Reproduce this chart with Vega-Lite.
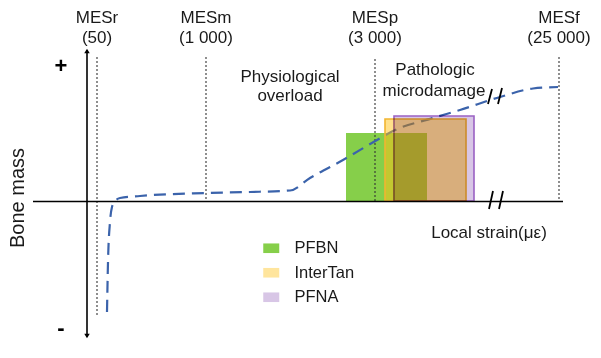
{
  "$schema": "https://vega.github.io/schema/vega-lite/v6.json",
  "width": 601,
  "height": 358,
  "autosize": {"type": "fit", "contains": "padding"},
  "padding": 0,
  "background": "white",
  "config": {"view": {"stroke": null}, "font": "Liberation Sans"},
  "datasets": {
    "implants": [
      {"implant": "PFBN", "x": 346, "x2": 427, "y": 133, "y2": 201},
      {"implant": "InterTan", "x": 385, "x2": 466, "y": 119, "y2": 201},
      {"implant": "PFNA", "x": 394, "x2": 474, "y": 116, "y2": 201}
    ],
    "thresholds": [
      {"name": "MESr", "value": "(50)", "x": 97, "y": 57, "y2": 316},
      {"name": "MESm", "value": "(1 000)", "x": 206, "y": 57, "y2": 201},
      {"name": "MESp", "value": "(3 000)", "x": 375, "y": 59, "y2": 201},
      {"name": "MESf", "value": "(25 000)", "x": 559, "y": 57, "y2": 201}
    ],
    "curve": [
      {"x": 107, "y": 312},
      {"x": 108, "y": 262},
      {"x": 110, "y": 222},
      {"x": 112, "y": 207},
      {"x": 115, "y": 201},
      {"x": 120, "y": 198},
      {"x": 140, "y": 196},
      {"x": 205, "y": 193},
      {"x": 250, "y": 192},
      {"x": 290, "y": 190.5},
      {"x": 310, "y": 178},
      {"x": 343, "y": 160},
      {"x": 377, "y": 140},
      {"x": 393, "y": 131},
      {"x": 433, "y": 118},
      {"x": 460, "y": 110},
      {"x": 500, "y": 97},
      {"x": 533, "y": 88.5},
      {"x": 558, "y": 87}
    ],
    "axes": [
      {"x": 87, "y": 50, "x2": 87, "y2": 337},
      {"x": 33, "y": 201.5, "x2": 563, "y2": 201.5}
    ],
    "breaks": [
      {"x": 492, "y": 89, "x2": 488, "y2": 104},
      {"x": 502, "y": 88, "x2": 498, "y2": 104},
      {"x": 493, "y": 191, "x2": 489, "y2": 209},
      {"x": 503, "y": 191, "x2": 499, "y2": 209}
    ],
    "arrows": [
      {"x": 87, "y": 51, "shape": "triangle-up"},
      {"x": 87, "y": 336, "shape": "triangle-down"}
    ],
    "notes": [
      {"text": "Physiological", "x": 290, "y": 77},
      {"text": "overload", "x": 290, "y": 96},
      {"text": "Pathologic", "x": 435, "y": 70},
      {"text": "microdamage", "x": 434, "y": 91},
      {"text": "Local strain(με)", "x": 489, "y": 233}
    ],
    "signs": [
      {"text": "+", "x": 61, "y": 66},
      {"text": "-", "x": 61, "y": 328}
    ],
    "ytitle": [
      {"text": "Bone mass", "x": 18, "y": 198}
    ]
  },
  "encoding": {
    "x": {"field": "x", "type": "quantitative", "scale": {"domain": [0, 601], "nice": false, "zero": false}, "axis": null},
    "y": {"field": "y", "type": "quantitative", "scale": {"domain": [0, 358], "nice": false, "zero": false, "reverse": true}, "axis": null}
  },
  "layer": [
    {
      "data": {"name": "implants"},
      "transform": [{"filter": "datum.implant === 'PFBN'"}],
      "mark": {"type": "rect", "fillOpacity": 1, "strokeWidth": 0},
      "encoding": {
        "x2": {"field": "x2"},
        "y2": {"field": "y2"},
        "fill": {
          "field": "implant", "type": "nominal",
          "scale": {"domain": ["PFBN", "InterTan", "PFNA"], "range": ["#86cf4a", "#ffc115", "#d8c6e6"]},
          "legend": {
            "orient": "none", "legendX": 263, "legendY": 240, "title": null, "padding": 0,
            "symbolType": "M-1,-0.6H1V0.6H-1Z", "symbolSize": 256, "labelOffset": 15,
            "labelFontSize": 16.5, "labelFont": "Liberation Sans", "labelColor": "#1a1a1a",
            "rowPadding": 7.5,
            "encode": {"symbols": {"update": {"fillOpacity": {"signal": "datum.value === 'InterTan' ? 0.42 : 1"}, "opacity": {"value": 1}, "strokeWidth": {"value": 0}}}}
          }
        }
      }
    },
    {
      "data": {"name": "thresholds"},
      "mark": {"type": "rule", "strokeDash": [2, 2], "strokeWidth": 1.1, "color": "#333333"},
      "encoding": {"y2": {"field": "y2"}}
    },
    {
      "data": {"name": "curve"},
      "mark": {"type": "line", "interpolate": "monotone", "strokeDash": [12, 7], "strokeWidth": 2.2, "color": "#3b63ab"},
      "encoding": {}
    },
    {
      "data": {"name": "implants"},
      "transform": [{"filter": "datum.implant === 'InterTan'"}],
      "mark": {"type": "rect", "fillOpacity": 0.5, "stroke": "#f2b530", "strokeWidth": 1.6},
      "encoding": {
        "x2": {"field": "x2"},
        "y2": {"field": "y2"},
        "fill": {"field": "implant", "type": "nominal", "scale": {"domain": ["PFBN", "InterTan", "PFNA"], "range": ["#86cf4a", "#ffc115", "#d8c6e6"]}}
      }
    },
    {
      "data": {"name": "implants"},
      "transform": [{"filter": "datum.implant === 'PFNA'"}],
      "mark": {"type": "rect", "blend": "multiply", "fillOpacity": 1, "stroke": "#9a62c4", "strokeWidth": 1.6},
      "encoding": {
        "x2": {"field": "x2"},
        "y2": {"field": "y2"},
        "fill": {"field": "implant", "type": "nominal", "scale": {"domain": ["PFBN", "InterTan", "PFNA"], "range": ["#86cf4a", "#ffc115", "#d8c6e6"]}}
      }
    },
    {
      "data": {"name": "axes"},
      "mark": {"type": "rule", "strokeWidth": 1.6, "color": "black"},
      "encoding": {"x2": {"field": "x2"}, "y2": {"field": "y2"}}
    },
    {
      "data": {"name": "breaks"},
      "mark": {"type": "rule", "strokeWidth": 1.8, "color": "black"},
      "encoding": {"x2": {"field": "x2"}, "y2": {"field": "y2"}}
    },
    {
      "data": {"name": "arrows"},
      "mark": {"type": "point", "filled": true, "color": "black", "size": 30, "opacity": 1},
      "encoding": {"shape": {"field": "shape", "type": "nominal", "scale": null}}
    },
    {
      "data": {"name": "thresholds"},
      "mark": {"type": "text", "fontSize": 17, "baseline": "middle", "align": "center", "color": "#1a1a1a"},
      "encoding": {"y": {"datum": 18}, "text": {"field": "name"}}
    },
    {
      "data": {"name": "thresholds"},
      "mark": {"type": "text", "fontSize": 17, "baseline": "middle", "align": "center", "color": "#1a1a1a"},
      "encoding": {"y": {"datum": 38}, "text": {"field": "value"}}
    },
    {
      "data": {"name": "notes"},
      "mark": {"type": "text", "fontSize": 17, "baseline": "middle", "align": "center", "color": "#1a1a1a"},
      "encoding": {"text": {"field": "text"}}
    },
    {
      "data": {"name": "signs"},
      "mark": {"type": "text", "fontSize": 22, "fontWeight": "bold", "baseline": "middle", "align": "center", "color": "black"},
      "encoding": {"text": {"field": "text"}}
    },
    {
      "data": {"name": "ytitle"},
      "mark": {"type": "text", "fontSize": 20, "angle": 270, "baseline": "middle", "align": "center", "color": "#1a1a1a"},
      "encoding": {"text": {"field": "text"}}
    }
  ]
}
